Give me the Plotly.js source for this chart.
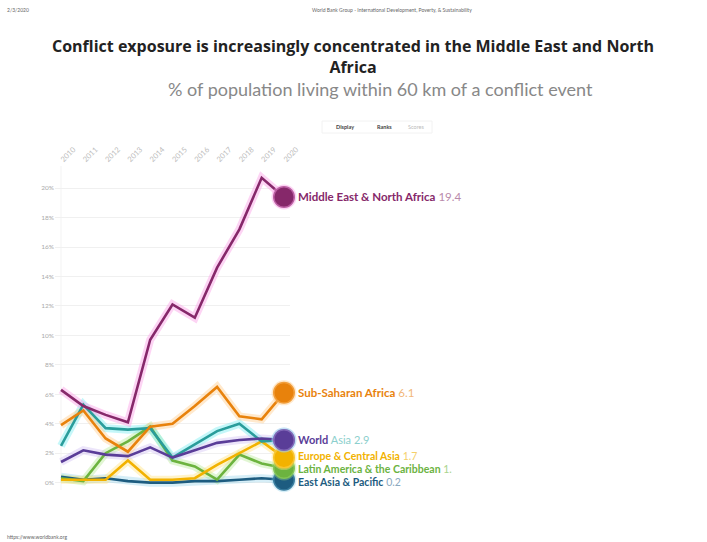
<!DOCTYPE html>
<html>
<head>
<meta charset="utf-8">
<script src="https://cdn.plot.ly/plotly-3.0.1.min.js"></script>
<style>
  html, body { margin: 0; padding: 0; background: #fff; }
  #chart { width: 707px; height: 542px; }
</style>
</head>
<body>
<div id="chart"></div>
<script>
// ---- data ----
const years = [2010, 2011, 2012, 2013, 2014, 2015, 2016, 2017, 2018, 2019, 2020];
const regionNames = ['East Asia & Pacific', 'Latin America & the Caribbean', 'Europe & Central Asia', 'South Asia', 'World', 'Sub-Saharan Africa', 'Middle East & North Africa'];
const eap   = [0.4, 0.2, 0.3, 0.1, 0.0, 0.0, 0.1, 0.1, 0.2, 0.3, 0.2];
const lac   = [0.3, 0.1, 2.0, 2.8, 3.8, 1.5, 1.1, 0.2, 1.9, 1.3, 1.0];
const eca   = [0.2, 0.2, 0.2, 1.5, 0.2, 0.2, 0.3, 1.2, 2.0, 2.8, 1.7];
const sas   = [2.5, 5.3, 3.7, 3.6, 3.7, 1.7, 2.6, 3.5, 4.0, 2.8, 2.9];
const world = [1.4, 2.2, 1.9, 1.8, 2.4, 1.7, 2.2, 2.7, 2.9, 3.0, 2.9];
const ssa   = [3.9, 4.9, 3.0, 2.1, 3.8, 4.0, 5.2, 6.5, 4.5, 4.3, 6.1];
const mena  = [6.3, 5.2, 4.6, 4.1, 9.7, 12.1, 11.2, 14.6, 17.2, 20.7, 19.4];
const seriesValues = [eap, lac, eca, sas, world, ssa, mena];
const yTickVals = [0, 2, 4, 6, 8, 10, 12, 14, 16, 18, 20];

// ---- styles ----
const lineColors = ['#1d5c80', '#6cb33f', '#f2b200', '#2a9d9b', '#5a3d98', '#e8820c', '#86286a'];
const glowColors = ['rgba(120,200,230,0.30)', 'rgba(170,230,130,0.35)', 'rgba(255,225,120,0.40)', 'rgba(110,235,240,0.40)', 'rgba(200,180,240,0.35)', 'rgba(255,200,130,0.40)', 'rgba(250,160,230,0.45)'];
const valueColors = ['#8aa9bf', '#a9d48c', '#f5cf6a', '#8ccfcd', '#a99cc9', '#f2b77a', '#b98aab'];
const labelSizes = [10.5, 10.5, 10.5, 11, 11, 11.5, 11.5];
const labelShifts = [-2, -1, 2, 0, 0, 0, 0];

const traces = [];
// glows
seriesValues.forEach((vals, i) => {
  traces.push({
    x: years, y: vals, type: 'scatter', mode: 'lines',
    line: { color: glowColors[i], width: 8 },
    hoverinfo: 'skip', showlegend: false, cliponaxis: false
  });
});
// lines
seriesValues.forEach((vals, i) => {
  traces.push({
    x: years, y: vals, type: 'scatter', mode: 'lines',
    line: { color: lineColors[i], width: 2.6 },
    name: regionNames[i], hoverinfo: 'skip', showlegend: false, cliponaxis: false
  });
});
// end dots
const last = years.length - 1;
seriesValues.forEach((vals, i) => {
  traces.push({
    x: [years[last]], y: [vals[last]], type: 'scatter', mode: 'markers',
    marker: { color: lineColors[i], size: 22, line: { color: glowColors[i], width: 3 } },
    hoverinfo: 'skip', showlegend: false, cliponaxis: false
  });
});

// labels
const annotations = [];
seriesValues.forEach((vals, i) => {
  const name = regionNames[i];
  if (name === 'South Asia') return;
  const v = vals[last].toFixed(1);
  let txt;
  if (name === 'World') {
    txt = '<b>World</b> <span style="color:' + valueColors[3] + '">Asia</span> <span style="color:' + valueColors[3] + '">' + v + '</span>';
  } else if (name === 'Latin America & the Caribbean') {
    txt = '<b>' + name + '</b> <span style="color:' + valueColors[i] + '">1.</span>';
  } else {
    txt = '<b>' + name + '</b> <span style="color:' + valueColors[i] + '">' + v + '</span>';
  }
  annotations.push({
    x: years[last], y: vals[last], xref: 'x', yref: 'y',
    text: txt, showarrow: false, xanchor: 'left', yanchor: 'middle', xshift: 13, yshift: labelShifts[i],
    borderpad: 0,
    font: { family: 'Lato, sans-serif', size: labelSizes[i], color: lineColors[i] }
  });
});

// titles and page text
const paperText = (text, x, y, size, color, xanchor, family, extra) => Object.assign({
  text: text, x: x, y: y, xref: 'paper', yref: 'paper', showarrow: false,
  xanchor: xanchor || 'center', yanchor: 'middle',
  font: { family: family || 'Lato, sans-serif', size: size, color: color }
}, extra || {});

const L = 55, R = 417, T = 166, B = 52;
const pw = 707 - L - R, ph = 542 - T - B;
const px = (X) => (X - L) / pw;
const py = (Y) => (542 - B - Y) / ph;

annotations.push(paperText('<b>Conflict exposure is increasingly concentrated in the Middle East and North</b><br><b>Africa</b>', px(353), py(56), 16, '#222', 'center', 'Open Sans, sans-serif'));
annotations.push(paperText('% of population living within 60 km of a conflict event', px(380), py(89), 18, '#888', 'center', 'Lato, sans-serif'));
annotations.push(paperText('2/3/2020', px(5), py(10), 5, '#666', 'left'));
annotations.push(paperText('World Bank Group - International Development, Poverty, & Sustainability', px(392), py(10), 5, '#666', 'center'));
annotations.push(paperText('https://www.worldbank.org', px(5), py(537), 5, '#666', 'left'));
annotations.push(paperText('<b>Display</b>', px(345), py(127), 5.5, '#444', 'center'));
annotations.push(paperText('<b>Ranks</b>', px(384), py(127), 5.5, '#444', 'center'));
annotations.push(paperText('Scores', px(416), py(127), 5.5, '#bbb', 'center'));

const layout = {
  width: 707, height: 542,
  margin: { l: L, r: R, t: T, b: B, pad: 0 },
  paper_bgcolor: '#fff', plot_bgcolor: '#fff',
  showlegend: false, hovermode: false,
  xaxis: {
    range: [2009.73, 2020.27], side: 'top', tickvals: years, ticktext: years.map(String),
    tickangle: -45, tickfont: { family: 'Lato, sans-serif', size: 7.5, color: '#bbb' },
    showgrid: false, zeroline: false, showline: false, ticks: ''
  },
  yaxis: {
    range: [-0.5, 21.5], tickvals: yTickVals, ticktext: yTickVals.map(v => v + '%'),
    tickfont: { family: 'Lato, sans-serif', size: 6.5, color: '#aaa' },
    showgrid: true, gridcolor: '#f0f0f0', gridwidth: 1, zeroline: false, showline: false, ticks: ''
  },
  shapes: [
    { type: 'line', xref: 'paper', yref: 'paper', x0: px(61), x1: px(61), y0: 0, y1: 1, line: { color: '#f3f3f3', width: 1 }, layer: 'below' },
    { type: 'rect', xref: 'paper', yref: 'paper', x0: px(322), x1: px(432), y0: py(133), y1: py(121), line: { color: '#f2f2f2', width: 1 }, layer: 'below' }
  ],
  annotations: annotations
};

Plotly.newPlot('chart', traces, layout, { displayModeBar: false, staticPlot: true });
</script>
</body>
</html>
